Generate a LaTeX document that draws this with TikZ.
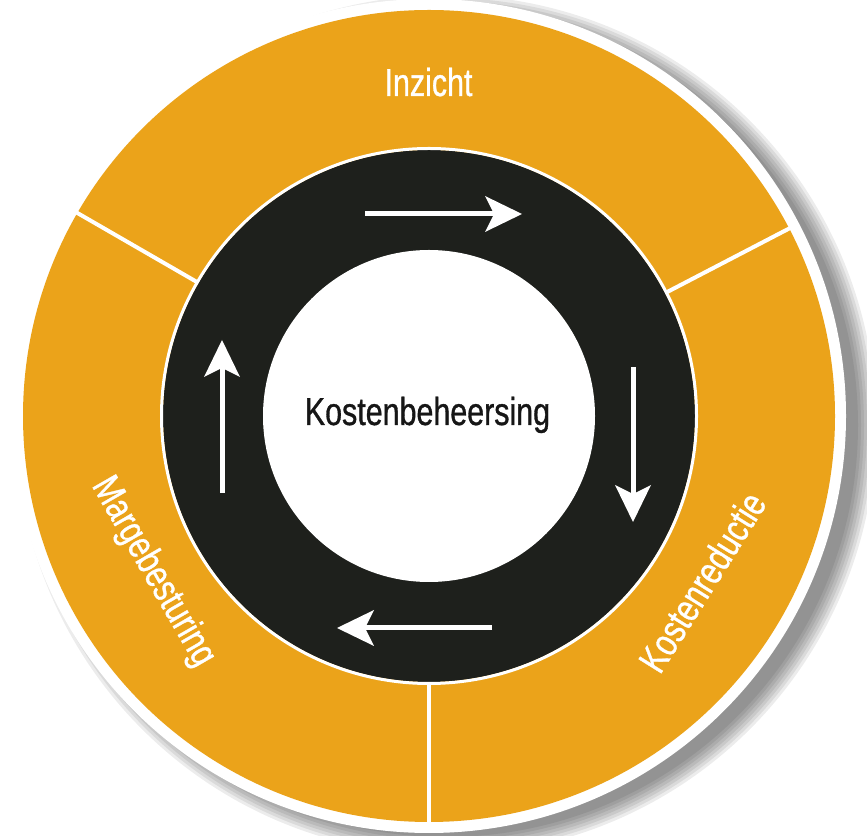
\documentclass[tikz,border=0pt]{standalone}
\usepackage{fontspec}
\setmainfont{Liberation Sans}[FakeStretch=0.78,FakeBold=0.8]
\usetikzlibrary{arrows.meta,calc}
\definecolor{ringorange}{RGB}{235,163,26}
\definecolor{ringblack}{RGB}{30,32,28}
\definecolor{textblack}{RGB}{22,22,22}
\begin{document}
\begin{tikzpicture}[x=1pt,y=1pt,
  lbl/.style={text=white, font=\fontsize{39}{39}\selectfont, inner sep=0pt},
  divider/.style={white, line width=4pt},
  cyc/.style={white, line width=5pt, -{Stealth[length=37pt,width=36pt,inset=9pt,line width=0pt]}}
]
\useasboundingbox (0,0) rectangle (867,835);
\fill[white] (0,0) rectangle (867,835);
\coordinate (C) at (429,419);
% drop shadow
\begin{scope}
\clip (0,0) rectangle (867,835);
\foreach \r in {430,427,...,412} \fill[black,opacity=0.075] (446,410) circle (\r);
\end{scope}
% white rim and orange disc
\fill[white] (C) circle (417);
\fill[ringorange] (C) circle (406);
% dividers
\coordinate (d1a) at ($(C)+(150:262)$); \coordinate (d1b) at ($(C)+(150:407)$);
\coordinate (d2a) at ($(C)+(27.5:262)$); \coordinate (d2b) at ($(C)+(27.5:407)$);
\coordinate (d3a) at ($(C)+(270:262)$); \coordinate (d3b) at ($(C)+(270:407)$);
\draw[divider] (d1a) -- (d1b);
\draw[divider] (d2a) -- (d2b);
\draw[divider] (d3a) -- (d3b);
% black ring
\fill[ringblack] (C) circle (266);
\draw[white, line width=3pt] (C) circle (267.5);
\node[circle, fill=white, draw=none, minimum size=332pt, inner sep=0pt] (core) at (C) {};
% centre text
\node[anchor=base, inner sep=0pt, text=textblack, font=\fontsize{39}{39}\selectfont] (kb) at (427.5,410) {Kostenbeheersing};
% sector labels
\node[lbl, anchor=base] (inz) at (428.5,739) {Inzicht};
\node[lbl, rotate=58] (kr) at (702,253) {Kostenreductie};
\node[lbl, rotate=-60] (mb) at (153,263) {Margebesturing};
% cycle arrows
\coordinate (t1) at (365,621); \coordinate (t2) at (522,621);
\coordinate (r1) at (633,468); \coordinate (r2) at (633,313);
\coordinate (b1) at (492,207); \coordinate (b2) at (337,207);
\coordinate (l1) at (222,342); \coordinate (l2) at (222,495);
\draw[cyc] (t1) -- (t2);
\draw[cyc] (r1) -- (r2);
\draw[cyc] (b1) -- (b2);
\draw[cyc] (l1) -- (l2);
\end{tikzpicture}
\end{document}
